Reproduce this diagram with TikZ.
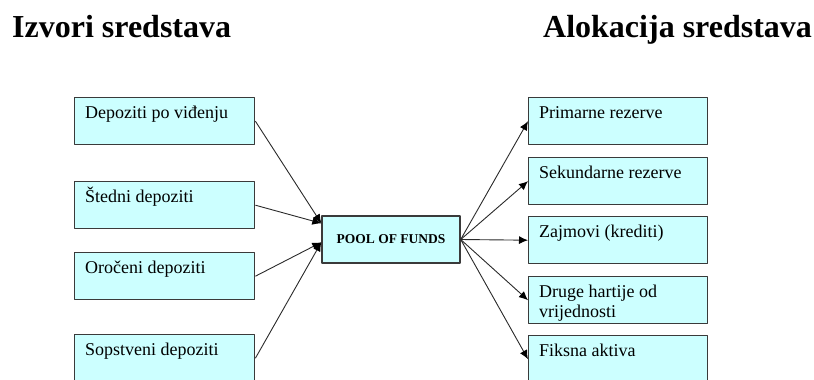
\documentclass[tikz,border=0pt]{standalone}
\usepackage{fontspec}
\setmainfont{Liberation Serif}
\usetikzlibrary{arrows.meta,calc,positioning}
\definecolor{plava}{HTML}{CCFFFF}
\definecolor{okvir}{HTML}{3A3A3A}
\definecolor{linija}{HTML}{2A2A2A}
\begin{document}
\begin{tikzpicture}[x=1pt,y=-1pt,line join=round,
	kutija/.style={draw=okvir,fill=plava,line width=1.4pt,minimum width=180pt,minimum height=47pt,inner sep=0pt,anchor=north west},
	natpis/.style={anchor=base west,xshift=11pt,yshift=-21pt,inner sep=0pt,font=\fontsize{18}{20}\selectfont},
	naslov/.style={anchor=base west,inner sep=0pt,font=\fontsize{32}{36}\selectfont\bfseries},
	strelica/.style={draw=linija,line width=0.9pt,-{Latex[length=9pt,width=8pt,color=black]}}]
		\clip (0,0) rectangle (814,380);
		\node[naslov] (izvori) at (12,37) {Izvori sredstava};
		\node[naslov] (alokacija) at (543,37) {Alokacija sredstava};
		\node[kutija,minimum width=138pt,anchor=center,font=\fontsize{13.5}{15}\selectfont\bfseries] (pool) at (391,239.5) {POOL OF FUNDS};
		\foreach \i/\y/\tekst in {d1/97/Depoziti po viđenju,d2/181/Štedni depoziti,d3/252/Oročeni depoziti,d4/334/Sopstveni depoziti}{\node[kutija,label={[natpis]north west:\parbox[t]{165pt}{\tekst}}] (\i) at (74,\y) {};}
		\foreach \i/\y/\tekst in {r1/97/Primarne rezerve,r2/157/Sekundarne rezerve,r3/216/Zajmovi (krediti),r4/276/{Druge hartije od\\vrijednosti},r5/335/Fiksna aktiva}{\node[kutija,minimum width=179pt,label={[natpis]north west:\parbox[t]{165pt}{\tekst}}] (\i) at (528,\y) {};}
		\foreach \i/\a in {d1/8,d2/8,d3/27,d4/27}{\draw[strelica] (\i.east) -- ($(pool.north west)+(0,\a)$);}
		\foreach \i in {r1,r2,r3,r4,r5}{\draw[strelica] (pool.east) -- (\i.west);}
\end{tikzpicture}
\end{document}
